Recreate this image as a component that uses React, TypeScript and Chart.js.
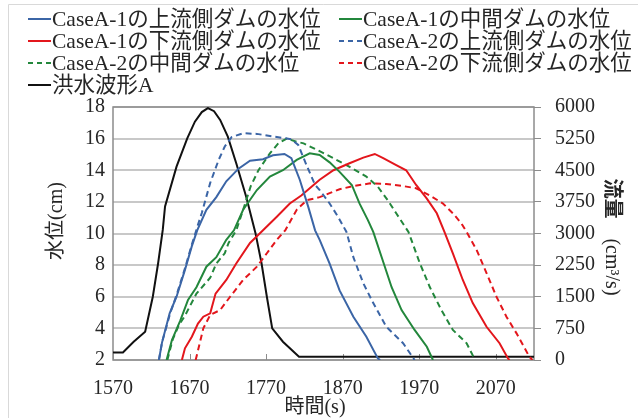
import React, { useEffect, useRef } from 'react';
import { Chart, registerables } from 'chart.js';

Chart.register(...registerables);

// ---- tick values ----
const xTickValues = [1570, 1670, 1770, 1870, 1970, 2070];
const levelTickValues = [2, 4, 6, 8, 10, 12, 14, 16, 18];
const flowTickValues = [0, 750, 1500, 2250, 3000, 3750, 4500, 5250, 6000];

// ---- CaseA-1 upstream dam water level ----
const a1UpTime = [1630, 1634, 1644, 1653, 1664, 1673, 1680, 1692, 1705, 1718, 1734, 1749, 1766, 1779, 1794, 1803, 1814, 1825, 1834, 1840, 1853, 1866, 1884, 1901, 1916, 1919];
const a1UpLevel = [2.0, 3.1, 4.95, 6.0, 7.7, 9.2, 10.2, 11.5, 12.3, 13.3, 14.1, 14.6, 14.7, 14.95, 15.03, 14.76, 13.4, 11.7, 10.2, 9.6, 8.1, 6.4, 4.74, 3.47, 2.1, 2.0];

// ---- CaseA-1 middle dam water level ----
const a1MidTime = [1640, 1647, 1658, 1668, 1679, 1692, 1705, 1718, 1728, 1740, 1758, 1775, 1792, 1810, 1827, 1840, 1853, 1866, 1882, 1892, 1903, 1910, 1921, 1934, 1947, 1964, 1980, 1988];
const a1MidLevel = [2.0, 3.26, 4.5, 5.8, 6.6, 7.9, 8.5, 9.6, 10.2, 11.5, 12.75, 13.6, 14.0, 14.65, 15.07, 14.97, 14.5, 13.9, 13.07, 11.9, 10.85, 10.1, 8.5, 6.6, 5.16, 3.9, 2.84, 2.0];

// ---- CaseA-1 downstream dam water level ----
const a1DownTime = [1660, 1664, 1673, 1681, 1688, 1697, 1704, 1718, 1731, 1749, 1766, 1784, 1801, 1816, 1832, 1840, 1858, 1879, 1897, 1912, 1923, 1940, 1953, 1966, 1980, 1993, 2003, 2014, 2027, 2040, 2058, 2075, 2086, 2088];
const a1DownLevel = [2.0, 2.74, 3.47, 4.3, 4.74, 4.95, 6.2, 7.06, 8.1, 9.4, 10.2, 11.06, 11.9, 12.4, 13.07, 13.4, 14.0, 14.44, 14.8, 15.03, 14.76, 14.33, 14.0, 13.07, 12.2, 11.28, 10.1, 8.75, 7.06, 5.6, 4.1, 3.06, 2.1, 2.0];

// ---- CaseA-2 upstream dam water level ----
const a2UpTime = [1630, 1634, 1645, 1653, 1664, 1673, 1680, 1686, 1697, 1708, 1716, 1725, 1740, 1758, 1784, 1803, 1812, 1823, 1834, 1840, 1853, 1864, 1875, 1884, 1897, 1910, 1927, 1949, 1964];
const a2UpLevel = [2.0, 3.1, 5.0, 6.1, 7.8, 9.3, 10.4, 11.3, 13.2, 14.65, 15.5, 16.1, 16.34, 16.3, 16.1, 15.96, 15.6, 14.3, 13.07, 12.75, 11.9, 11.06, 10.1, 8.5, 6.85, 5.6, 4.1, 3.06, 2.0];

// ---- CaseA-2 middle dam water level ----
const a2MidTime = [1641, 1648, 1656, 1664, 1679, 1697, 1705, 1716, 1721, 1731, 1740, 1750, 1760, 1775, 1786, 1797, 1810, 1819, 1836, 1858, 1875, 1901, 1916, 1929, 1940, 1956, 1971, 1984, 1999, 2014, 2032, 2043];
const a2MidLevel = [2.0, 3.3, 4.2, 4.8, 6.2, 7.2, 8.1, 8.75, 9.4, 10.2, 11.5, 13.0, 14.0, 15.07, 15.7, 16.0, 15.8, 15.7, 15.3, 14.76, 14.33, 13.6, 12.96, 12.1, 11.28, 10.1, 8.1, 6.6, 5.16, 3.9, 3.06, 2.0];

// ---- CaseA-2 downstream dam water level ----
const a2DownTime = [1678, 1683, 1688, 1697, 1710, 1723, 1740, 1758, 1771, 1784, 1795, 1810, 1823, 1840, 1853, 1866, 1884, 1906, 1927, 1949, 1966, 1984, 2001, 2014, 2025, 2032, 2045, 2058, 2071, 2084, 2097, 2114, 2118];
const a2DownLevel = [2.0, 3.0, 4.0, 4.85, 5.16, 6.0, 7.06, 7.9, 8.75, 9.6, 10.2, 11.5, 12.1, 12.3, 12.55, 12.8, 13.0, 13.17, 13.13, 13.0, 12.86, 12.4, 11.9, 11.28, 10.65, 10.1, 8.96, 7.5, 6.0, 4.74, 3.7, 2.2, 2.0];

// ---- Flood hydrograph A (flow, right axis) ----
const floodTime = [1570, 1583, 1597, 1612, 1622, 1629, 1635, 1638, 1653, 1667, 1677, 1686, 1694, 1702, 1710, 1720, 1731, 1744, 1756, 1764, 1771, 1778, 1792, 1813, 2120];
const floodFlow = [180, 180, 434, 670, 1500, 2300, 3084, 3640, 4585, 5258, 5653, 5880, 5975, 5900, 5693, 5297, 4666, 3874, 3020, 2300, 1500, 750, 434, 75, 75];

const BLUE = '#3b65a6';
const GREEN = '#23873c';
const RED = '#e3161c';
const BLACK = '#111111';
const FONT = "'Liberation Serif', 'Noto Sans CJK JP', serif";
const TEXT = '#262626';

const pts = (t: number[], v: number[]) => t.map((x, i) => ({ x, y: v[i] }));

const seriesDefs = [
  { label: 'CaseA-1の上流側ダムの水位', t: a1UpTime, v: a1UpLevel, color: BLUE, dash: [] as number[], axis: 'y' },
  { label: 'CaseA-1の中間ダムの水位', t: a1MidTime, v: a1MidLevel, color: GREEN, dash: [] as number[], axis: 'y' },
  { label: 'CaseA-1の下流側ダムの水位', t: a1DownTime, v: a1DownLevel, color: RED, dash: [] as number[], axis: 'y' },
  { label: 'CaseA-2の上流側ダムの水位', t: a2UpTime, v: a2UpLevel, color: BLUE, dash: [6, 4], axis: 'y' },
  { label: 'CaseA-2の中間ダムの水位', t: a2MidTime, v: a2MidLevel, color: GREEN, dash: [6, 4], axis: 'y' },
  { label: 'CaseA-2の下流側ダムの水位', t: a2DownTime, v: a2DownLevel, color: RED, dash: [6, 4], axis: 'y' },
  { label: '洪水波形A', t: floodTime, v: floodFlow, color: BLACK, dash: [] as number[], axis: 'y1' },
];

const overlayPlugin = {
  id: 'overlay',
  beforeDatasetsDraw(chart: any) {
    const { ctx, chartArea: ca } = chart;
    ctx.save();
    ctx.strokeStyle = '#8c8c8c';
    ctx.lineWidth = 1;
    xTickValues.forEach((v) => {
      const x = Math.round(chart.scales.x.getPixelForValue(v)) + 0.5;
      ctx.beginPath();
      ctx.moveTo(x, ca.bottom);
      ctx.lineTo(x, ca.bottom - 6);
      ctx.stroke();
    });
    ctx.strokeStyle = '#8c8c8c';
    ctx.lineWidth = 1.5;
    ctx.strokeRect(ca.left, ca.top, ca.right - ca.left, ca.bottom - ca.top);
    ctx.restore();
  },
  afterDraw(chart: any) {
    const { ctx } = chart;
    ctx.save();
    ctx.strokeStyle = '#d9d9d9';
    ctx.lineWidth = 1;
    ctx.beginPath();
    ctx.moveTo(8.5, 418);
    ctx.lineTo(8.5, 4.5);
    ctx.lineTo(638, 4.5);
    ctx.stroke();

    // legend
    ctx.font = `21.5px ${FONT}`;
    ctx.textBaseline = 'middle';
    ctx.textAlign = 'left';
    const colX = [28, 339];
    const rowY = [19, 41, 63, 85];
    seriesDefs.forEach((s, i) => {
      const cx = colX[i % 2];
      const cy = rowY[Math.floor(i / 2)];
      ctx.strokeStyle = s.color;
      ctx.lineWidth = 2;
      ctx.setLineDash(s.dash.length ? [5, 4] : []);
      ctx.beginPath();
      ctx.moveTo(cx, cy);
      ctx.lineTo(cx + 23, cy);
      ctx.stroke();
      ctx.setLineDash([]);
      ctx.fillStyle = TEXT;
      ctx.fillText(s.label, cx + 24, cy + 1);
    });

    // axis titles
    ctx.fillStyle = TEXT;
    ctx.textAlign = 'center';
    ctx.textBaseline = 'middle';
    ctx.font = `20px ${FONT}`;
    ctx.fillText('時間(s)', 315, 408);

    ctx.save();
    ctx.translate(57, 221);
    ctx.rotate(-Math.PI / 2);
    ctx.fillText('水位(cm)', 0, 0);
    ctx.restore();

    ctx.save();
    ctx.translate(611, 237);
    ctx.rotate(Math.PI / 2);
    ctx.textAlign = 'left';
    ctx.font = `bold 20px ${FONT}`;
    const p1 = '流量';
    const w1 = ctx.measureText(p1).width;
    ctx.font = `20px ${FONT}`;
    const p2 = '\u3000(cm³/s)';
    const w2 = ctx.measureText(p2).width;
    const start = -(w1 + w2) / 2;
    ctx.font = `bold 20px ${FONT}`;
    ctx.fillText(p1, start, 0);
    ctx.font = `20px ${FONT}`;
    ctx.fillText(p2, start + w1, 0);
    ctx.restore();

    ctx.restore();
  },
};

const plain = (v: any) => String(v);

export default function App() {
  const ref = useRef<HTMLCanvasElement | null>(null);

  useEffect(() => {
    if (!ref.current) return;
    const datasets = seriesDefs.map((s) => ({
      label: s.label,
      data: pts(s.t, s.v),
      borderColor: s.color,
      backgroundColor: s.color,
      borderWidth: 2,
      borderDash: s.dash,
      pointRadius: 0,
      tension: 0,
      fill: false,
      yAxisID: s.axis,
    }));
    const tickFont = { family: FONT, size: 20 };
    const chart = new Chart(ref.current, {
      type: 'line',
      data: { datasets },
      plugins: [overlayPlugin],
      options: {
        animation: false,
        responsive: false,
        maintainAspectRatio: false,
        layout: { padding: { top: 107, left: 0, right: 0, bottom: 0 } },
        plugins: { legend: { display: false }, tooltip: { enabled: false } },
        scales: {
          x: {
            type: 'linear',
            min: 1570,
            max: 2120,
            afterBuildTicks: (s: any) => {
              s.ticks = xTickValues.map((value) => ({ value }));
            },
            afterFit: (s: any) => {
              s.height = 58;
            },
            grid: { display: false },
            border: { display: false },
            ticks: { font: tickFont, color: TEXT, padding: 9, maxRotation: 0, autoSkip: false, callback: plain },
          },
          y: {
            type: 'linear',
            position: 'left',
            min: 2,
            max: 18,
            afterBuildTicks: (s: any) => {
              s.ticks = levelTickValues.map((value) => ({ value }));
            },
            afterFit: (s: any) => {
              s.width = 113;
            },
            grid: { color: '#c8c8c8', lineWidth: 2, drawTicks: false },
            border: { display: false },
            ticks: { font: tickFont, color: TEXT, padding: 8, callback: plain },
          },
          y1: {
            type: 'linear',
            position: 'right',
            min: 0,
            max: 6000,
            afterBuildTicks: (s: any) => {
              s.ticks = flowTickValues.map((value) => ({ value }));
            },
            afterFit: (s: any) => {
              s.width = 104;
            },
            grid: { drawOnChartArea: false, drawTicks: true, tickLength: 7, color: '#8c8c8c', lineWidth: 1 },
            border: { display: false },
            ticks: { font: tickFont, color: TEXT, padding: 14, callback: plain },
          },
        },
      },
    } as any);
    return () => chart.destroy();
  }, []);

  return (
    <div style={{ position: 'absolute', left: 0, top: 0, width: 638, height: 418, background: '#fff' }}>
      <canvas ref={ref} width={638} height={418} style={{ width: 638, height: 418, display: 'block' }} />
    </div>
  );
}
